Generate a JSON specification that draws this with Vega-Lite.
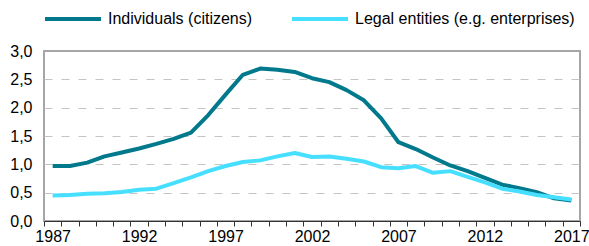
{
  "$schema": "https://vega.github.io/schema/vega-lite/v6.json",
  "autosize": "none",
  "width": 536,
  "height": 170,
  "padding": {"left": 44, "top": 51, "right": 9, "bottom": 25},
  "background": "white",
  "config": {
    "font": "Liberation Sans",
    "view": {"stroke": "#a6a6a6", "strokeWidth": 2}
  },
  "data": {
    "values": [
      {"year": 1987, "series": "Individuals (citizens)", "value": 0.97},
      {"year": 1988, "series": "Individuals (citizens)", "value": 0.97},
      {"year": 1989, "series": "Individuals (citizens)", "value": 1.03},
      {"year": 1990, "series": "Individuals (citizens)", "value": 1.14},
      {"year": 1991, "series": "Individuals (citizens)", "value": 1.21},
      {"year": 1992, "series": "Individuals (citizens)", "value": 1.28},
      {"year": 1993, "series": "Individuals (citizens)", "value": 1.36},
      {"year": 1994, "series": "Individuals (citizens)", "value": 1.45},
      {"year": 1995, "series": "Individuals (citizens)", "value": 1.56},
      {"year": 1996, "series": "Individuals (citizens)", "value": 1.87},
      {"year": 1997, "series": "Individuals (citizens)", "value": 2.23},
      {"year": 1998, "series": "Individuals (citizens)", "value": 2.58},
      {"year": 1999, "series": "Individuals (citizens)", "value": 2.69},
      {"year": 2000, "series": "Individuals (citizens)", "value": 2.67},
      {"year": 2001, "series": "Individuals (citizens)", "value": 2.63},
      {"year": 2002, "series": "Individuals (citizens)", "value": 2.52},
      {"year": 2003, "series": "Individuals (citizens)", "value": 2.45},
      {"year": 2004, "series": "Individuals (citizens)", "value": 2.31},
      {"year": 2005, "series": "Individuals (citizens)", "value": 2.13},
      {"year": 2006, "series": "Individuals (citizens)", "value": 1.81},
      {"year": 2007, "series": "Individuals (citizens)", "value": 1.39},
      {"year": 2008, "series": "Individuals (citizens)", "value": 1.27},
      {"year": 2009, "series": "Individuals (citizens)", "value": 1.12},
      {"year": 2010, "series": "Individuals (citizens)", "value": 0.98},
      {"year": 2011, "series": "Individuals (citizens)", "value": 0.88},
      {"year": 2012, "series": "Individuals (citizens)", "value": 0.76},
      {"year": 2013, "series": "Individuals (citizens)", "value": 0.64},
      {"year": 2014, "series": "Individuals (citizens)", "value": 0.58},
      {"year": 2015, "series": "Individuals (citizens)", "value": 0.51},
      {"year": 2016, "series": "Individuals (citizens)", "value": 0.40},
      {"year": 2017, "series": "Individuals (citizens)", "value": 0.36},
      {"year": 1987, "series": "Legal entities (e.g. enterprises)", "value": 0.45},
      {"year": 1988, "series": "Legal entities (e.g. enterprises)", "value": 0.46},
      {"year": 1989, "series": "Legal entities (e.g. enterprises)", "value": 0.48},
      {"year": 1990, "series": "Legal entities (e.g. enterprises)", "value": 0.49},
      {"year": 1991, "series": "Legal entities (e.g. enterprises)", "value": 0.51},
      {"year": 1992, "series": "Legal entities (e.g. enterprises)", "value": 0.55},
      {"year": 1993, "series": "Legal entities (e.g. enterprises)", "value": 0.57},
      {"year": 1994, "series": "Legal entities (e.g. enterprises)", "value": 0.67},
      {"year": 1995, "series": "Legal entities (e.g. enterprises)", "value": 0.77},
      {"year": 1996, "series": "Legal entities (e.g. enterprises)", "value": 0.88},
      {"year": 1997, "series": "Legal entities (e.g. enterprises)", "value": 0.97},
      {"year": 1998, "series": "Legal entities (e.g. enterprises)", "value": 1.04},
      {"year": 1999, "series": "Legal entities (e.g. enterprises)", "value": 1.07},
      {"year": 2000, "series": "Legal entities (e.g. enterprises)", "value": 1.14},
      {"year": 2001, "series": "Legal entities (e.g. enterprises)", "value": 1.20},
      {"year": 2002, "series": "Legal entities (e.g. enterprises)", "value": 1.13},
      {"year": 2003, "series": "Legal entities (e.g. enterprises)", "value": 1.14},
      {"year": 2004, "series": "Legal entities (e.g. enterprises)", "value": 1.10},
      {"year": 2005, "series": "Legal entities (e.g. enterprises)", "value": 1.05},
      {"year": 2006, "series": "Legal entities (e.g. enterprises)", "value": 0.95},
      {"year": 2007, "series": "Legal entities (e.g. enterprises)", "value": 0.93},
      {"year": 2008, "series": "Legal entities (e.g. enterprises)", "value": 0.97},
      {"year": 2009, "series": "Legal entities (e.g. enterprises)", "value": 0.85},
      {"year": 2010, "series": "Legal entities (e.g. enterprises)", "value": 0.88},
      {"year": 2011, "series": "Legal entities (e.g. enterprises)", "value": 0.78},
      {"year": 2012, "series": "Legal entities (e.g. enterprises)", "value": 0.68},
      {"year": 2013, "series": "Legal entities (e.g. enterprises)", "value": 0.57},
      {"year": 2014, "series": "Legal entities (e.g. enterprises)", "value": 0.52},
      {"year": 2015, "series": "Legal entities (e.g. enterprises)", "value": 0.46},
      {"year": 2016, "series": "Legal entities (e.g. enterprises)", "value": 0.42},
      {"year": 2017, "series": "Legal entities (e.g. enterprises)", "value": 0.38}
    ]
  },
  "mark": {"type": "line", "strokeWidth": 4, "strokeJoin": "round"},
  "encoding": {
    "x": {
      "field": "year",
      "type": "quantitative",
      "scale": {"domain": [1986.5, 2017.5], "nice": false, "zero": false},
      "axis": {
        "title": null,
        "grid": false,
        "values": [1986.5, 1987.5, 1988.5, 1989.5, 1990.5, 1991.5, 1992.5, 1993.5, 1994.5, 1995.5, 1996.5, 1997.5, 1998.5, 1999.5, 2000.5, 2001.5, 2002.5, 2003.5, 2004.5, 2005.5, 2006.5, 2007.5, 2008.5, 2009.5, 2010.5, 2011.5, 2012.5, 2013.5, 2014.5, 2015.5, 2016.5, 2017.5],
        "labelExpr": "(datum.value + 0.5) % 5 == 2 && datum.value < 2017 ? toString(datum.value + 0.5) : ''",
        "labelOffset": 8.65,
        "labelOverlap": false,
        "labelFlush": false,
        "labelBound": false,
        "labelFontSize": 16,
        "labelColor": "#000000",
        "labelPadding": 2,
        "tickSize": 5,
        "tickColor": "#333333",
        "domainColor": "#333333",
        "domainWidth": 1
      }
    },
    "y": {
      "field": "value",
      "type": "quantitative",
      "scale": {"domain": [0, 3], "nice": false, "zero": true},
      "axis": {
        "title": null,
        "values": [0, 0.5, 1, 1.5, 2, 2.5, 3],
        "labelExpr": "replace(format(datum.value, '.1f'), '.', ',')",
        "labelFontSize": 16,
        "labelColor": "#000000",
        "labelPadding": 12,
        "ticks": false,
        "domain": false,
        "grid": true,
        "gridColor": {"condition": {"test": "datum.value == 0 || datum.value == 3", "value": "transparent"}, "value": "#c4c4c4"},
        "gridDash": [8, 9],
        "gridWidth": 1
      }
    },
    "color": {
      "field": "series",
      "type": "nominal",
      "scale": {
        "domain": ["Individuals (citizens)", "Legal entities (e.g. enterprises)"],
        "range": ["#00798C", "#47DFFF"]
      },
      "legend": {
        "title": null,
        "orient": "none",
        "direction": "horizontal",
        "legendX": -1,
        "legendY": -62,
        "symbolType": "stroke",
        "symbolSize": 3136,
        "symbolStrokeWidth": 4,
        "labelFontSize": 16,
        "labelColor": "#000000",
        "labelOffset": 5,
        "columnPadding": 31,
        "labelLimit": 400
      }
    }
  }
}
